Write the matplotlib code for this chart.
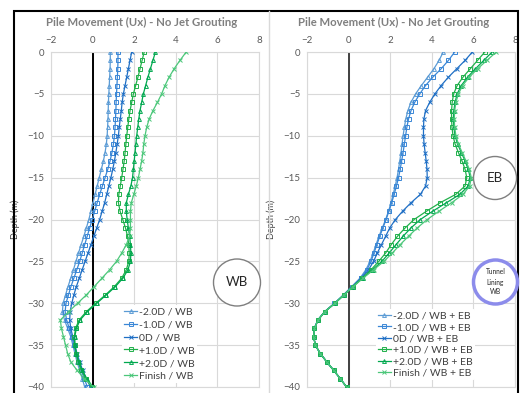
import numpy as np
import matplotlib
matplotlib.use("Agg")
import matplotlib.pyplot as plt
from matplotlib.patches import Circle, Rectangle
from matplotlib.transforms import IdentityTransform

plt.rcParams['font.family'] = ['Lato', 'DejaVu Sans']

# depth of pile nodes (m)
depth = list(range(0, -41, -1))

# left chart - WB only
wb_m20 = [0.85, 0.85, 0.84, 0.82, 0.80, 0.78, 0.76, 0.75, 0.74, 0.72, 0.70,
          0.66, 0.60, 0.52, 0.42, 0.32, 0.22, 0.12, 0.02, -0.08, -0.18,
          -0.30, -0.42, -0.55, -0.68, -0.80, -0.92, -1.05, -1.18, -1.30, -1.42,
          -1.45, -1.35, -1.20, -1.05, -0.95, -0.85, -0.75, -0.62, -0.50, -0.38]
wb_m10 = [1.22, 1.22, 1.21, 1.19, 1.17, 1.15, 1.13, 1.12, 1.10, 1.08, 1.05,
          1.00, 0.93, 0.84, 0.73, 0.60, 0.47, 0.34, 0.22, 0.10, -0.02,
          -0.14, -0.26, -0.38, -0.50, -0.62, -0.76, -0.90, -1.04, -1.16, -1.28,
          -1.32, -1.25, -1.12, -1.00, -0.90, -0.80, -0.68, -0.55, -0.40, -0.25]
wb_0 = [1.88, 1.80, 1.72, 1.64, 1.56, 1.48, 1.42, 1.38, 1.33, 1.28, 1.24,
        1.18, 1.12, 1.05, 0.97, 0.88, 0.78, 0.68, 0.58, 0.46, 0.34,
        0.20, 0.06, -0.08, -0.22, -0.36, -0.50, -0.64, -0.78, -0.90, -1.00,
        -1.08, -1.10, -1.05, -0.95, -0.85, -0.75, -0.62, -0.48, -0.30, -0.10]
wb_p10 = [2.48, 2.38, 2.28, 2.18, 2.07, 1.96, 1.88, 1.80, 1.74, 1.69, 1.64,
          1.60, 1.56, 1.52, 1.46, 1.40, 1.33, 1.26, 1.24, 1.32, 1.45,
          1.58, 1.68, 1.74, 1.76, 1.74, 1.62, 1.40, 1.05, 0.62, 0.15,
          -0.30, -0.65, -0.82, -0.88, -0.86, -0.80, -0.70, -0.55, -0.32, -0.05]
wb_p20 = [3.02, 2.90, 2.78, 2.66, 2.55, 2.44, 2.36, 2.28, 2.22, 2.17, 2.12,
          2.08, 2.04, 2.00, 1.96, 1.92, 1.84, 1.72, 1.62, 1.62, 1.66,
          1.72, 1.78, 1.82, 1.84, 1.82, 1.70, 1.46, 1.10, 0.66, 0.20,
          -0.25, -0.60, -0.78, -0.86, -0.85, -0.78, -0.66, -0.50, -0.28, 0.02]
wb_fin = [4.50, 4.20, 3.92, 3.68, 3.48, 3.32, 3.12, 2.90, 2.72, 2.60, 2.52,
          2.46, 2.42, 2.36, 2.28, 2.20, 2.10, 1.98, 1.86, 1.82, 1.82,
          1.82, 1.78, 1.62, 1.40, 1.15, 0.82, 0.45, 0.08, -0.30, -0.72,
          -1.15, -1.55, -1.50, -1.40, -1.30, -1.20, -1.05, -0.75, -0.40, 0.05]

# right chart - WB + EB
eb_m20 = [4.55, 4.35, 4.10, 3.80, 3.50, 3.22, 3.00, 2.85, 2.75, 2.68, 2.62,
          2.57, 2.52, 2.46, 2.40, 2.33, 2.24, 2.14, 2.04, 1.92, 1.78,
          1.62, 1.46, 1.32, 1.18, 1.03, 0.83, 0.55, 0.15, -0.25, -0.68,
          -1.15, -1.48, -1.65, -1.68, -1.60, -1.36, -1.05, -0.72, -0.40, -0.10]
eb_m10 = [5.10, 4.80, 4.45, 4.05, 3.70, 3.42, 3.18, 3.00, 2.88, 2.80, 2.74,
          2.68, 2.62, 2.55, 2.48, 2.40, 2.30, 2.19, 2.07, 1.94, 1.80,
          1.65, 1.50, 1.36, 1.22, 1.08, 0.88, 0.58, 0.18, -0.24, -0.68,
          -1.15, -1.48, -1.65, -1.68, -1.60, -1.36, -1.05, -0.72, -0.40, -0.10]
eb_0 = [5.95, 5.60, 5.20, 4.80, 4.45, 4.15, 3.90, 3.70, 3.62, 3.60, 3.60,
        3.63, 3.68, 3.73, 3.77, 3.78, 3.70, 3.45, 3.00, 2.60, 2.25,
        1.98, 1.78, 1.58, 1.38, 1.20, 0.96, 0.62, 0.20, -0.22, -0.66,
        -1.14, -1.47, -1.64, -1.68, -1.60, -1.36, -1.05, -0.72, -0.40, -0.10]
eb_p10 = [6.55, 6.20, 5.85, 5.50, 5.22, 5.05, 4.98, 4.95, 4.95, 4.97, 5.02,
          5.12, 5.28, 5.45, 5.60, 5.68, 5.60, 5.15, 4.40, 3.75, 3.15,
          2.72, 2.35, 2.05, 1.78, 1.45, 1.08, 0.65, 0.20, -0.22, -0.66,
          -1.14, -1.47, -1.64, -1.68, -1.60, -1.36, -1.05, -0.72, -0.40, -0.10]
eb_p20 = [6.90, 6.50, 6.10, 5.72, 5.42, 5.22, 5.12, 5.06, 5.04, 5.06, 5.12,
          5.24, 5.42, 5.60, 5.75, 5.85, 5.75, 5.35, 4.70, 4.05, 3.45,
          3.00, 2.62, 2.28, 1.95, 1.60, 1.15, 0.68, 0.22, -0.22, -0.66,
          -1.14, -1.47, -1.64, -1.68, -1.60, -1.36, -1.05, -0.72, -0.40, -0.10]
eb_fin = [7.10, 6.65, 6.20, 5.80, 5.48, 5.28, 5.16, 5.10, 5.08, 5.10, 5.16,
          5.28, 5.46, 5.64, 5.80, 5.90, 5.82, 5.50, 4.95, 4.35, 3.78,
          3.30, 2.88, 2.48, 2.10, 1.70, 1.20, 0.70, 0.22, -0.22, -0.66,
          -1.14, -1.47, -1.64, -1.68, -1.60, -1.36, -1.05, -0.72, -0.40, -0.10]

stages = ["-2.0D", "-1.0D", "0D", "+1.0D", "+2.0D", "Finish"]
colors = ["#5B9BD5", "#3A87D6", "#1F6FC5", "#21B04B", "#00A84F", "#4CC77A"]
markers = ["^", "s", "x", "s", "^", "x"]

W, H = 521, 393
fig = plt.figure(figsize=(W / 100, H / 100), dpi=100)

def px(x0, y0, x1, y1):
    return [x0 / W, 1 - y1 / H, (x1 - x0) / W, (y1 - y0) / H]

def draw(ax, series, suffix, zero_color):
    ax.set_xlim(-2, 8)
    ax.set_ylim(-40, 0)
    ax.set_xticks([-2, 0, 2, 4, 6, 8])
    ax.set_yticks(range(0, -41, -5))
    ax.xaxis.tick_top()
    ax.tick_params(length=0, labelsize=7, colors="#595959", pad=5)
    ax.grid(color="#d9d9d9", lw=0.8)
    ax.set_axisbelow(True)
    for s in ax.spines.values():
        s.set_color("#d9d9d9")
        s.set_linewidth(0.8)
    ax.axvline(0, color=zero_color, lw=1.4, zorder=2)
    for vals, st, c, m in zip(series, stages, colors, markers):
        ax.plot(vals, depth, color=c, lw=0.9, marker=m, ms=2.8,
                mfc="none", mew=0.7, label=st + suffix, zorder=3)
    ax.set_ylabel("Depth (m)", fontsize=6.5, color="#404040", labelpad=5)

ax1 = fig.add_axes(px(51, 52, 259, 387))
draw(ax1, [wb_m20, wb_m10, wb_0, wb_p10, wb_p20, wb_fin], " / WB", "black")
ax1.legend(loc="upper left", bbox_to_anchor=(0.34, 0.245), fontsize=7.5,
           frameon=True, facecolor="white", edgecolor="none", framealpha=1,
           handlelength=1.3, handletextpad=0.2, labelspacing=0.35,
           borderpad=0.2, borderaxespad=0, labelcolor="#404040")

ax2 = fig.add_axes(px(307, 52, 515, 387))
draw(ax2, [eb_m20, eb_m10, eb_0, eb_p10, eb_p20, eb_fin], " / WB + EB", "#404040")
ax2.legend(loc="upper left", bbox_to_anchor=(0.33, 0.232), fontsize=7.5,
           frameon=True, facecolor="white", edgecolor="none", framealpha=1,
           handlelength=1.3, handletextpad=0.2, labelspacing=0.2,
           borderpad=0.2, borderaxespad=0, labelcolor="#404040")

# titles
for cx in (141.5, 393.5):
    fig.text(cx / W, 1 - 22 / H, "Pile Movement (Ux) - No Jet Grouting",
             ha="center", va="center", fontsize=8.2, fontweight="bold",
             color="#7f7f7f")

# frame around both charts and divider
fig.add_artist(Rectangle((14 / W, -0.05), 504 / W, 1.05 - 11 / H,
                         transform=fig.transFigure, fill=False,
                         edgecolor="black", lw=1.5))
fig.add_artist(plt.Line2D([269 / W, 269 / W], [0, 1 - 11 / H],
                          transform=fig.transFigure, color="#d9d9d9", lw=1))

# circles
idt = IdentityTransform()
fig.add_artist(Circle((237, H - 282.5), 23.5, transform=idt, facecolor="white",
                      edgecolor="#7f7f7f", lw=1, zorder=5))
fig.text(237 / W, 1 - 282.5 / H, "WB", ha="center", va="center",
         fontsize=9.5, color="#262626", zorder=6)
fig.add_artist(Circle((495, H - 178), 21.5, transform=idt, facecolor="white",
                      edgecolor="#7f7f7f", lw=1, zorder=5))
fig.text(495 / W, 1 - 178 / H, "EB", ha="center", va="center",
         fontsize=9.5, color="#262626", zorder=6)
fig.add_artist(Circle((495.5, H - 282), 22, transform=idt, facecolor="white",
                      edgecolor="#8C8CEB", lw=2.5, zorder=5))
fig.text(495.5 / W, 1 - 282 / H, "Tunnel\nLining\nWB", ha="center", va="center",
         fontsize=4.8, color="#262626", linespacing=1.5, zorder=6)

fig.savefig("out.png", dpi=100)
